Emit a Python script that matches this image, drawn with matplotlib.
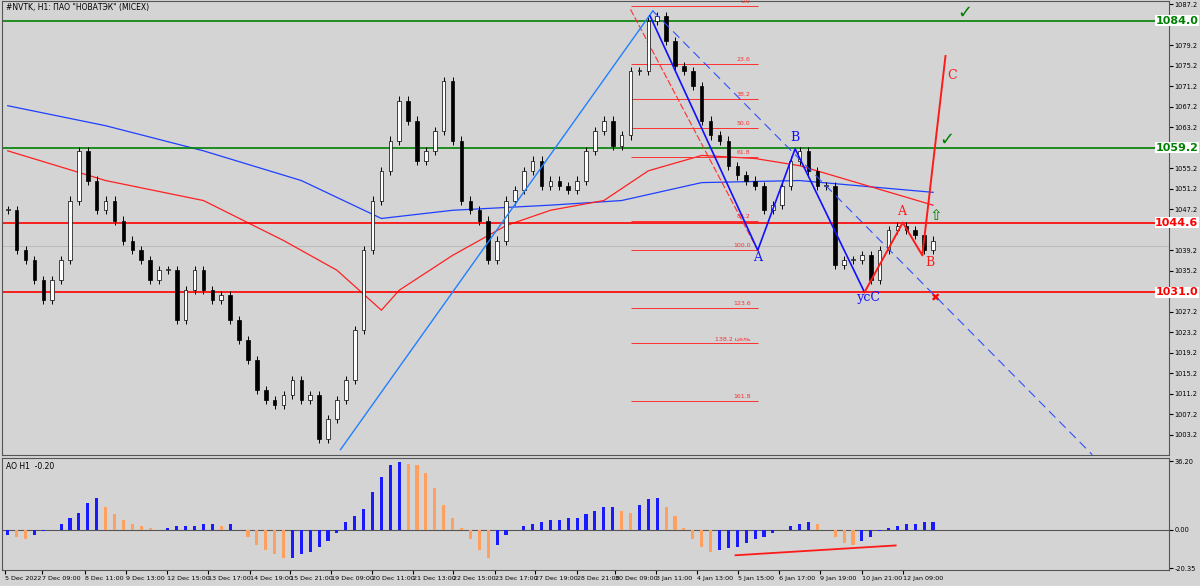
import numpy as np
import matplotlib
matplotlib.use("Agg")
import matplotlib.pyplot as plt
from matplotlib.transforms import blended_transform_factory

title = '#NVTK, H1: ПАО "НОВАТЭК" (MICEX)'
closes = [1047.0, 1039.2, 1037.3, 1033.4, 1029.5, 1033.4, 1037.3, 1048.9, 1058.6, 1052.8,
          1047.0, 1048.9, 1045.0, 1041.1, 1039.2, 1037.3, 1033.4, 1035.3, 1035.3, 1025.6,
          1031.4, 1035.3, 1031.4, 1029.5, 1030.5, 1025.6, 1021.7, 1017.8, 1012.0, 1010.0,
          1009.1, 1011.0, 1013.9, 1010.0, 1011.0, 1002.3, 1006.2, 1010.0, 1013.9, 1023.6,
          1039.2, 1048.9, 1054.7, 1060.6, 1068.4, 1064.5, 1056.7, 1058.6, 1062.5, 1072.2,
          1060.6, 1048.9, 1047.0, 1045.0, 1037.3, 1041.1, 1048.9, 1050.9, 1054.7, 1056.7,
          1051.8, 1052.8, 1051.8, 1050.9, 1052.8, 1058.6, 1062.5, 1064.5, 1059.6, 1061.6,
          1074.2, 1074.2, 1083.9, 1084.9, 1080.0, 1075.2, 1074.2, 1071.3, 1064.5, 1061.6,
          1060.6, 1055.7, 1053.8, 1052.8, 1051.8, 1047.0, 1048.0, 1051.8, 1056.7, 1058.6,
          1054.7, 1051.8, 1051.8, 1036.3, 1037.3, 1037.3, 1038.2, 1033.4, 1039.2, 1043.1,
          1044.0, 1043.1, 1042.1, 1039.2, 1041.1]
ao = [-3, -4, -5, -3, -1, 0, 3, 6, 9, 14, 17, 12, 8, 5, 3, 2, 1, 0, 1, 2, 2, 2, 3, 3, 2, 3, 0,
      -4, -8, -11, -13, -15, -15, -13, -12, -9, -6, -2, 4, 7, 11, 20, 28, 34, 36, 35, 34, 30,
      22, 13, 6, 1, -5, -11, -15, -8, -3, 0, 2, 3, 4, 5, 5, 6, 6, 8, 10, 12, 12, 10, 9, 13, 16,
      17, 12, 7, 1, -5, -9, -12, -11, -10, -9, -7, -5, -4, -2, 0, 2, 3, 4, 3, 0, -4, -7, -8,
      -6, -4, -1, 1, 2, 3, 3, 4, 4]
ma_blue_x = [0, 11, 22, 33, 42, 50, 61, 69, 78, 89, 104]
ma_blue = [1067.4, 1063.5, 1058.6, 1052.8, 1045.4, 1047.0, 1048.0, 1048.9, 1052.4, 1052.8, 1050.5]
ma_red_x = [0, 11, 22, 31, 37, 42, 44, 50, 56, 61, 67, 72, 78, 84, 89, 104]
ma_red = [1058.6, 1052.8, 1048.9, 1041.1, 1035.3, 1027.5, 1031.4, 1038.2, 1044.0, 1047.0, 1048.9, 1054.7, 1057.7, 1057.1, 1055.7, 1048.0]
tick_pos = [-0.3, 3.9, 8.7, 13.3, 17.9, 22.5, 27.2, 31.7, 36.3, 40.9, 45.5, 50.1, 54.8, 59.3, 64.0, 68.3, 72.9, 77.5, 82.1, 86.7, 91.3, 96.0, 100.6]
tick_labels = ["5 Dec 2022", "7 Dec 09:00", "8 Dec 11:00", "9 Dec 13:00", "12 Dec 15:00", "13 Dec 17:00",
               "14 Dec 19:00", "15 Dec 21:00", "19 Dec 09:00", "20 Dec 11:00", "21 Dec 13:00", "22 Dec 15:00",
               "23 Dec 17:00", "27 Dec 19:00", "28 Dec 21:00", "30 Dec 09:00", "3 Jan 11:00", "4 Jan 13:00",
               "5 Jan 15:00", "6 Jan 17:00", "9 Jan 19:00", "10 Jan 21:00", "12 Jan 09:00"]
price_ticks = [1087.2, 1079.2, 1075.2, 1071.2, 1067.2, 1063.2, 1055.2, 1051.2, 1047.2, 1039.2,
               1035.2, 1027.2, 1023.2, 1019.2, 1015.2, 1011.2, 1007.2, 1003.2]
levels = [(1084.0, "green"), (1059.2, "green"), (1044.6, "red"), (1031.0, "red")]
fib_levels = [0.0, 23.6, 38.2, 50.0, 61.8, 88.2, 100.0, 123.6, 138.2, 161.8]
fib_labels = ["0.0", "23.6", "38.2", "50.0", "61.8", "88.2", "100.0", "123.6", "138.2 цель", "161.8"]
fib_top, fib_bot = 1086.8, 1039.2

bg = "#d4d4d4"
fig = plt.figure(figsize=(12, 5.86), dpi=100, facecolor=bg)
ax = fig.add_axes([0.002, 0.224, 0.972, 0.774], facecolor=bg)
ax2 = fig.add_axes([0.002, 0.027, 0.972, 0.191], facecolor=bg, sharex=ax)

n = len(closes)
opens = [closes[0]] + closes[:-1]
for i in range(n):
    o, c = opens[i], closes[i]
    hi, lo = max(o, c) + 0.8, min(o, c) - 0.8
    ax.vlines(i, lo, hi, color="black", lw=0.7, zorder=3)
    ax.bar(i, max(abs(c - o), 0.2), bottom=min(o, c), width=0.4,
           color="white" if c >= o else "black", edgecolor="black", lw=0.5, zorder=4)

ax.plot(ma_blue_x, ma_blue, color="#1f3fff", lw=0.9, zorder=2)
ax.plot(ma_red_x, ma_red, color="#ff2020", lw=0.9, zorder=2)

lab_tr = blended_transform_factory(fig.transFigure, ax.transData)
for lv, col in levels:
    ax.axhline(lv, color=col, lw=1.2, zorder=2)
    ax.text(0.9985, lv, f"{lv:.1f}", transform=lab_tr, color=col,
            fontsize=8, fontweight="bold", va="center", ha="right", clip_on=False,
            bbox=dict(facecolor="white", edgecolor="none", pad=0.3))
ax.axhline(1040.0, color="#bbbbbb", lw=0.7, zorder=1)

for lv, lab in zip(fib_levels, fib_labels):
    p = fib_top - lv / 100 * (fib_top - fib_bot)
    ax.hlines(p, 70, 84.3, color="#ff3030", lw=0.7, zorder=2)
    ax.text(83.5, p + 0.4, lab, color="#ff3030", fontsize=4.5, ha="right", va="bottom")
ax.plot([70, 84.3], [1086.2, 1039.2], color="#ff3030", lw=0.8, ls=(0, (6, 2)), zorder=2)

ax.plot([37.4, 72.5], [1000.3, 1085.9], color="#2080ff", lw=1.0, zorder=5)
ax.plot([72.5, 121.9], [1085.9, 999.3], color="#3050ff", lw=0.8, ls=(0, (8, 5)), zorder=5)
ax.plot([72.2, 84.3, 88.5, 96.3], [1084.9, 1039.2, 1059.0, 1031.0], color="#1010ff", lw=1.2, zorder=5)
ax.plot([96.3, 100.6, 102.8, 105.4], [1031.0, 1044.6, 1038.2, 1077.1], color="#ff1a1a", lw=1.4, zorder=5)
for t, xx, yy, col in [("A", 84.3, 1036.5, "#1010ff"), ("B", 88.5, 1060.0, "#1010ff"),
                       ("усC", 96.8, 1028.8, "#1010ff"), ("A", 100.5, 1045.5, "#ff1a1a"),
                       ("B", 103.7, 1035.6, "#ff1a1a"), ("C", 106.1, 1072.0, "#ff1a1a")]:
    ax.text(xx, yy, t, color=col, fontsize=9, family="DejaVu Serif", ha="center", va="bottom")
ax.text(107.6, 1085.5, "✓", color="green", fontsize=13, ha="center", va="center", fontweight="bold")
ax.text(105.6, 1060.8, "✓", color="green", fontsize=13, ha="center", va="center", fontweight="bold")
ax.text(104.2, 1029.9, "✖", color="red", fontsize=8, ha="center", va="center")
ax.text(104.3, 1046.0, "⇧", color="green", fontsize=11, ha="center", va="center")

ax.set_xlim(-0.6, 130.5)
ax.set_ylim(999.3, 1087.8)
ax.yaxis.tick_right()
ax.set_yticks(price_ticks)
ax.set_yticklabels([f"{v:.1f}" for v in price_ticks])
ax.tick_params(axis="y", labelsize=4.8, length=3, pad=1)
ax.tick_params(axis="x", bottom=False, labelbottom=False)
ax.text(0.003, 0.997, title, transform=ax.transAxes, fontsize=5.5, va="top", ha="left")

ao_cols = ["#1a1aff"] + ["#1a1aff" if ao[i] >= ao[i - 1] else "#ffa060" for i in range(1, len(ao))]
ax2.bar(np.arange(len(ao)), ao, width=0.35, color=ao_cols, zorder=3)
ax2.axhline(0, color="#555555", lw=0.8)
ax2.plot([81.8, 99.8], [-13.6, -8.4], color="#ff1a1a", lw=1.3, zorder=4)
ax2.set_ylim(-21.5, 37.8)
ax2.yaxis.tick_right()
ax2.set_yticks([36.2, 0.0, -20.35])
ax2.set_yticklabels(["36.20", "0.00", "-20.35"])
ax2.tick_params(axis="y", labelsize=4.8, length=3, pad=1)
ax2.set_xticks(tick_pos)
ax2.set_xticklabels(tick_labels, ha="left")
ax2.tick_params(axis="x", labelsize=4.6, length=3, pad=1)
ax2.text(0.003, 0.97, "AO H1  -0.20", transform=ax2.transAxes, fontsize=5.5, va="top", ha="left")
for a in (ax, ax2):
    for s in a.spines.values():
        s.set_color("#555555")

fig.savefig("out.png", dpi=100, facecolor=bg)
